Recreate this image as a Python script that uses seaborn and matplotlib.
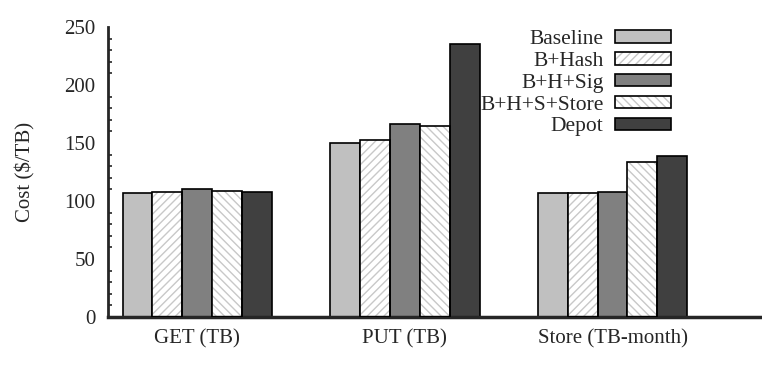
import pandas as pd
import matplotlib.pyplot as plt
import matplotlib.patches as mpatches
from matplotlib.legend_handler import HandlerTuple
from matplotlib.ticker import MultipleLocator
import seaborn as sns

# ===========================
# Data
# ===========================
operations = ["GET (TB)", "PUT (TB)", "Store (TB-month)"]
configs = ["Baseline", "B+Hash", "B+H+Sig", "B+H+S+Store", "Depot"]

baseline = [107, 150, 107]
b_hash = [108, 153, 107]
b_h_sig = [110, 166, 108]
b_h_s_store = [109, 165, 134]
depot = [108, 235, 139]

fills = ["#c0c0c0", "white", "#808080", "white", "#404040"]
hatches = ["", "////", "", "\\\\\\\\", ""]
HATCH_GRAY = "#c8c8c8"

rows = []
for cfg, vals in zip(configs, [baseline, b_hash, b_h_sig, b_h_s_store, depot]):
    for op, v in zip(operations, vals):
        rows.append({"op": op, "config": cfg, "cost": v})
df = pd.DataFrame(rows)

# ===========================
# Plot
# ===========================
sns.set_style("white")
plt.rcParams["font.family"] = ["Liberation Serif", "DejaVu Serif"]
plt.rcParams["hatch.linewidth"] = 1.0

fig = plt.figure(figsize=(7.62, 3.73), dpi=100)
ax = fig.add_axes([108 / 762, 1 - 317 / 373, (762 - 108) / 762, 290 / 373])

sns.barplot(data=df, x="op", y="cost", hue="config", order=operations,
            hue_order=configs, palette=fills, width=0.72, gap=0,
            saturation=1, legend=False, ax=ax)

legend_handles = []
for cont, fc, h, label in zip(ax.containers, fills, hatches, configs):
    for bar in cont:
        bar.set_facecolor(fc)
        if h:
            bar.set_hatch(h)
            bar.set_edgecolor(HATCH_GRAY)
            bar.set_linewidth(0)
            outline = mpatches.Rectangle(bar.get_xy(), bar.get_width(), bar.get_height(),
                                         fill=False, edgecolor="black", linewidth=1.2, zorder=3)
            ax.add_patch(outline)
        else:
            bar.set_edgecolor("black")
            bar.set_linewidth(1.2)
    if h:
        inner = mpatches.Patch(facecolor=fc, edgecolor=HATCH_GRAY, hatch=h, linewidth=0)
        edge = mpatches.Patch(facecolor="none", edgecolor="black", linewidth=1.2)
        legend_handles.append((inner, edge))
    else:
        legend_handles.append(mpatches.Patch(facecolor=fc, edgecolor="black", linewidth=1.2))

ax.set_xlim(-0.43, 2.72)
ax.set_ylim(0, 250)
ax.yaxis.set_major_locator(MultipleLocator(50))
ax.yaxis.set_minor_locator(MultipleLocator(10))
ax.tick_params(axis="y", which="major", direction="in", length=5, width=1.5, labelsize=15, pad=9)
ax.tick_params(axis="y", which="minor", direction="in", length=3, width=1.2, left=True)
ax.tick_params(axis="x", length=0, labelsize=15, pad=9)
ax.set_xlabel("")
ax.set_ylabel("Cost ($/TB)", fontsize=15, labelpad=21)

for s in ["top", "right"]:
    ax.spines[s].set_visible(False)
ax.spines["left"].set_linewidth(2)
ax.spines["bottom"].set_linewidth(2.5)

ax.legend(handles=legend_handles, labels=configs, loc="upper right",
          bbox_to_anchor=(0.866, 1.0), frameon=False, markerfirst=False,
          fontsize=15.5, handlelength=2.6, handleheight=0.5, labelspacing=0.13,
          handletextpad=0.55, borderaxespad=0, borderpad=0.15,
          handler_map={tuple: HandlerTuple(ndivide=1)})

plt.savefig("out.png", dpi=100)
plt.close()
